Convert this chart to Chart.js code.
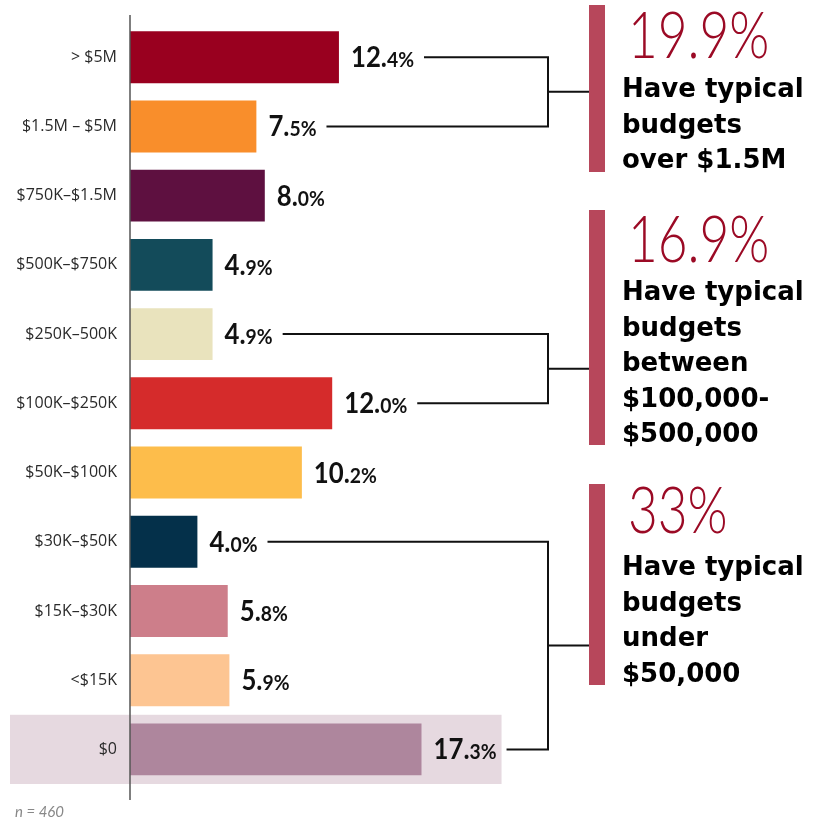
<!DOCTYPE html>
<html>
<head>
<meta charset="utf-8">
<script src="https://cdn.jsdelivr.net/npm/chart.js@4.4.0/dist/chart.umd.min.js"></script>
<style>
  html, body { margin: 0; padding: 0; background: #fff; }
  #wrap { position: relative; width: 823px; height: 822px; }
</style>
</head>
<body>
<div id="wrap"><canvas id="budgetChart"></canvas></div>
<script>
// budget brackets, top to bottom
const categories = ['> $5M', '$1.5M \u2013 $5M', '$750K\u2013$1.5M', '$500K\u2013$750K', '$250K\u2013500K',
  '$100K\u2013$250K', '$50K\u2013$100K', '$30K\u2013$50K', '$15K\u2013$30K', '<$15K', '$0'];
const shares = [12.4, 7.5, 8.0, 4.9, 4.9, 12.0, 10.2, 4.0, 5.8, 5.9, 17.3];
const barColors = ['#99001f', '#f98e2b', '#5e1040', '#134b5a', '#e9e3bd', '#d52b2b',
  '#fdbd4b', '#04304a', '#cd7e8a', '#fdc592', '#ae869d'];
const highlightRow = 10;

// bracketed groups: first and last row joined by the connector
const groupRows = [[0, 1], [4, 5], [7, 10]];
const groupText = [
  ['Have typical', 'budgets', 'over $1.5M'],
  ['Have typical', 'budgets', 'between', '$100,000-', '$500,000'],
  ['Have typical', 'budgets', 'under', '$50,000']
];
const sampleNote = 'n = 460';

// callout placement on the right side
const callouts = [
  { top: 5, bottom: 172, numBase: 58, textBase: 97 },
  { top: 210, bottom: 445, numBase: 262, textBase: 300 },
  { top: 484, bottom: 685, numBase: 533, textBase: 575 }
];
const JOIN_X = 548, STRIPE_X = 589, STRIPE_W = 16, TEXT_X = 622;

const BIG = '700 28px Lato', SMALL = '700 21px Lato', SQUEEZE = 0.92;

// draws "12.4%" with the decimals smaller; returns the right edge
function valueLabel(ctx, x, y, v, draw) {
  const parts = v.toFixed(1).split('.');
  const a = parts[0] + '.', b = parts[1] + '%';
  ctx.font = BIG;
  const wa = ctx.measureText(a).width;
  ctx.font = SMALL;
  const wb = ctx.measureText(b).width;
  if (draw) {
    ctx.save();
    ctx.translate(x, y);
    ctx.scale(SQUEEZE, 1);
    ctx.fillStyle = '#111';
    ctx.textAlign = 'left';
    ctx.textBaseline = 'alphabetic';
    ctx.font = BIG;
    ctx.fillText(a, 0, 0);
    ctx.font = SMALL;
    ctx.fillText(b, wa, 0);
    ctx.restore();
  }
  return x + (wa + wb) * SQUEEZE;
}

function fmtTotal(t) {
  const s = t.toFixed(1);
  return (s.endsWith('.0') ? s.slice(0, -2) : s) + '%';
}

const overlay = {
  id: 'overlay',
  // shaded band behind the $0 row, under the tick label too
  beforeDraw(chart) {
    const { ctx, scales: { x, y } } = chart;
    const half = (y.getPixelForValue(1) - y.getPixelForValue(0)) / 2;
    const cy = y.getPixelForValue(highlightRow);
    const end = valueLabel(ctx, x.getPixelForValue(shares[highlightRow]) + 12, 0, shares[highlightRow], false);
    ctx.save();
    ctx.fillStyle = '#e6d9e0';
    ctx.fillRect(10, cy - half, end + 5 - 10, half * 2);
    ctx.restore();
  },
  afterDatasetsDraw(chart) {
    const { ctx, scales: { x, y } } = chart;
    ctx.save();
    const ends = shares.map((v, i) =>
      valueLabel(ctx, x.getPixelForValue(v) + 12, y.getPixelForValue(i) + 10, v, true));

    // vertical axis line
    ctx.strokeStyle = '#555';
    ctx.lineWidth = 1.5;
    ctx.beginPath();
    ctx.moveTo(x.left, 15);
    ctx.lineTo(x.left, 800);
    ctx.stroke();

    groupRows.forEach((g, k) => {
      const y0 = y.getPixelForValue(g[0]), y1 = y.getPixelForValue(g[1]);
      const mid = (y0 + y1) / 2;
      ctx.strokeStyle = '#111';
      ctx.lineWidth = 2;
      ctx.beginPath();
      ctx.moveTo(ends[g[0]] + 10, y0);
      ctx.lineTo(JOIN_X, y0);
      ctx.lineTo(JOIN_X, y1);
      ctx.lineTo(ends[g[1]] + 10, y1);
      ctx.moveTo(JOIN_X, mid);
      ctx.lineTo(STRIPE_X, mid);
      ctx.stroke();

      const c = callouts[k];
      ctx.fillStyle = '#b7475b';
      ctx.fillRect(STRIPE_X, c.top, STRIPE_W, c.bottom - c.top);

      let total = 0;
      for (let i = g[0]; i <= g[1]; i++) total += shares[i];
      ctx.textAlign = 'left';
      ctx.textBaseline = 'alphabetic';
      // condensed light figure
      ctx.save();
      ctx.translate(TEXT_X + 6, c.numBase);
      ctx.scale(0.79, 1);
      ctx.fillStyle = '#9b0a25';
      ctx.font = '300 65px Lato';
      ctx.fillText(fmtTotal(total), 0, 0);
      ctx.restore();

      ctx.fillStyle = '#000';
      ctx.font = '700 26px "DejaVu Sans"';
      groupText[k].forEach((line, j) => ctx.fillText(line, TEXT_X, c.textBase + j * 35.5));
    });

    ctx.fillStyle = '#888';
    ctx.font = 'italic 15px Lato';
    ctx.fillText(sampleNote, 15, 817);
    ctx.restore();
  }
};

new Chart(document.getElementById('budgetChart'), {
  type: 'bar',
  data: {
    labels: categories,
    datasets: [{
      data: shares,
      backgroundColor: barColors,
      borderWidth: 0,
      barPercentage: 0.75,
      categoryPercentage: 1
    }]
  },
  options: {
    indexAxis: 'y',
    responsive: true,
    maintainAspectRatio: false,
    animation: false,
    layout: { padding: { top: 22, bottom: 38, left: 0, right: 356 } },
    plugins: { legend: { display: false }, tooltip: { enabled: false } },
    scales: {
      x: { display: false, min: 0, max: 20 },
      y: {
        grid: { display: false, drawTicks: false },
        border: { display: false },
        ticks: { color: '#2a2a2a', padding: 13, autoSkip: false, font: { family: 'Open Sans', size: 16 } },
        afterFit(scale) { scale.width = 130; }
      }
    }
  },
  plugins: [overlay]
});
</script>
</body>
</html>
